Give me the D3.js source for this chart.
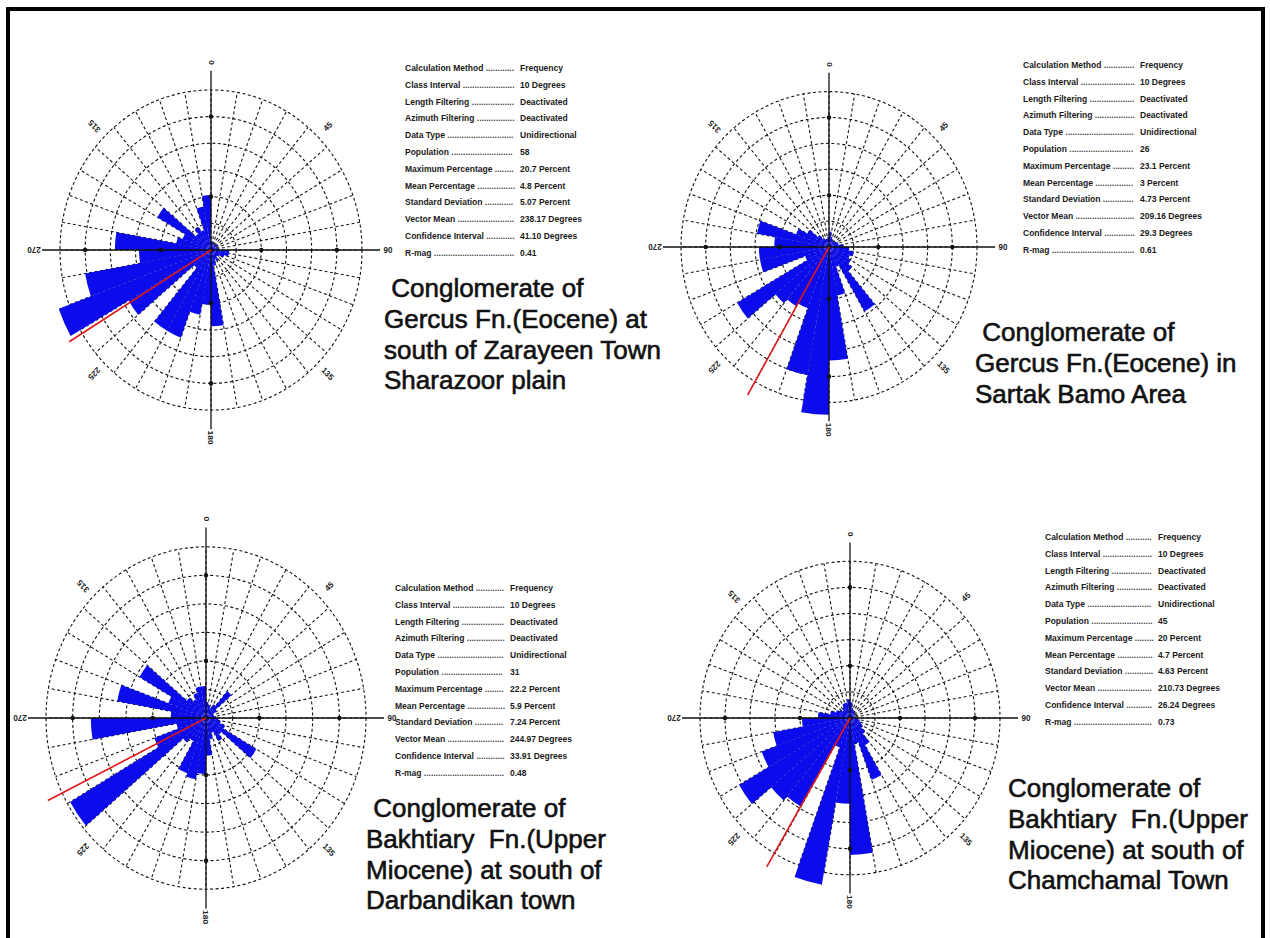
<!DOCTYPE html>
<html>
<head>
<meta charset="utf-8">
<script src="https://cdn.jsdelivr.net/npm/d3@7"></script>
<style>
  body { margin: 0; background: #fff; }
  svg { display: block; }
  text { white-space: pre; }
</style>
</head>
<body>
<div id="chart"></div>
<script>
// rose diagrams, 10 degree classes, values in percent

const binStarts = [0, 10, 20, 30, 40, 50, 60, 70, 80, 90, 100, 110, 120, 130, 140, 150, 160, 170,
  180, 190, 200, 210, 220, 230, 240, 250, 260, 270, 280, 290, 300, 310, 320, 330, 340, 350]

const roseZarayeen = [1.6, 1.6, 1.0, 1.2, 1.2, 1.6, 1.0, 1.2, 1.6, 3.6, 3.6, 2.8, 2.0, 1.6, 2.4, 2.0, 3.0, 14.3,
  10.3, 12.3, 17.5, 17.5, 4.4, 18.9, 32.2, 25.4, 14.3, 19.1, 7.0, 6.0, 12.3, 4.0, 5.0, 4.0, 8.3, 10.3]
const roseSartak = [3.0, 2.0, 1.6, 1.2, 1.6, 1.6, 2.0, 2.0, 3.0, 4.1, 5.1, 4.5, 5.1, 6.1, 14.4, 4.1, 9.5, 21.9,
  32.4, 25.1, 12.6, 13.2, 14.2, 21.5, 5.1, 14.2, 14.2, 11.1, 14.8, 7.1, 5.1, 3.0, 2.0, 1.6, 1.6, 2.0]
const roseDarbandikan = [2.8, 2.3, 1.9, 2.8, 6.2, 2.3, 1.5, 1.5, 1.9, 2.3, 2.8, 3.8, 10.9, 3.8, 4.7, 2.8, 3.8, 6.6,
  9.8, 10.9, 10.3, 4.7, 5.6, 29.4, 10.3, 5.6, 21.6, 6.6, 16.9, 7.5, 14.4, 4.7, 3.8, 4.7, 5.6, 5.6]
const roseChamchamal = [3.0, 2.0, 1.6, 1.6, 1.2, 1.2, 1.0, 1.0, 1.2, 1.6, 2.0, 2.4, 3.0, 4.0, 6.0, 12.6, 5.0, 26.2,
  16.4, 32.4, 6.0, 19.6, 20.6, 25.6, 18.8, 15.6, 9.6, 6.4, 4.0, 3.0, 2.4, 2.0, 2.4, 3.0, 3.0, 3.6]

const vectorMeans = [238.6, 210.0, 244.0, 210.3]
const ringValues = [5, 10, 15, 20, 25, 30]

const axisLabels = ['0', '45', '90', '135', '180', '225', '270', '315']
const axisAngles = [0, 45, 90, 135, 180, 225, 270, 315]

const statLabels = ['Calculation Method', 'Class Interval', 'Length Filtering', 'Azimuth Filtering',
  'Data Type', 'Population', 'Maximum Percentage', 'Mean Percentage', 'Standard Deviation',
  'Vector Mean', 'Confidence Interval', 'R-mag']
const statsZarayeen = ['Frequency', '10 Degrees', 'Deactivated', 'Deactivated', 'Unidirectional', '58',
  '20.7 Percent', '4.8 Percent', '5.07 Percent', '238.17 Degrees', '41.10 Degrees', '0.41']
const statsSartak = ['Frequency', '10 Degrees', 'Deactivated', 'Deactivated', 'Unidirectional', '26',
  '23.1 Percent', '3 Percent', '4.73 Percent', '209.16 Degrees', '29.3 Degrees', '0.61']
const statsDarbandikan = ['Frequency', '10 Degrees', 'Deactivated', 'Deactivated', 'Unidirectional', '31',
  '22.2 Percent', '5.9 Percent', '7.24 Percent', '244.97 Degrees', '33.91 Degrees', '0.48']
const statsChamchamal = ['Frequency', '10 Degrees', 'Deactivated', 'Deactivated', 'Unidirectional', '45',
  '20 Percent', '4.7 Percent', '4.63 Percent', '210.73 Degrees', '26.24 Degrees', '0.73']

const titles = [
  [' Conglomerate of', 'Gercus Fn.(Eocene) at', 'south of Zarayeen Town', 'Sharazoor plain'],
  [' Conglomerate of', 'Gercus Fn.(Eocene) in', 'Sartak Bamo Area'],
  [' Conglomerate of', 'Bakhtiary  Fn.(Upper', 'Miocene) at south of', 'Darbandikan town'],
  ['Conglomerate of', 'Bakhtiary  Fn.(Upper', 'Miocene) at south of', 'Chamchamal Town']
]

const width = 1270
const height = 938
const binWidth = 10

const svg = d3.select('#chart').append('svg')
  .attr('width', width).attr('height', height)

// frame (no bottom edge in the original)
svg.append('path')
  .attr('d', 'M8,' + height + 'V9H1263V' + height)
  .attr('fill', 'none')
  .attr('stroke', '#000')
  .attr('stroke-width', 4)

const panels = [
  { values: roseZarayeen, cx: 211, cy: 250, r: 151, sy: 1.06, tx: 384, ty: 297, sx: 405, svx: 520, st: 71, stats: statsZarayeen },
  { values: roseSartak, cx: 829, cy: 247, r: 148, sy: 1.05, tx: 975, ty: 341, sx: 1023, svx: 1140, st: 68, stats: statsSartak },
  { values: roseDarbandikan, cx: 206, cy: 718, r: 160, sy: 1.07, tx: 366, ty: 817, sx: 395, svx: 510, st: 591, stats: statsDarbandikan },
  { values: roseChamchamal, cx: 850, cy: 718, r: 150, sy: 1.045, tx: 1008, ty: 797, sx: 1045, svx: 1158, st: 540, stats: statsChamchamal }
]

const rad = d => d * Math.PI / 180

panels.forEach((p, k) => {
  const rScale = d3.scaleLinear().domain([0, 30]).range([0, p.r])
  const g = svg.append('g')
    .attr('transform', 'translate(' + p.cx + ',' + p.cy + ') scale(1,' + p.sy + ')')

  // dashed rings
  g.selectAll('circle.ring')
    .data(ringValues)
    .join('circle')
    .attr('class', 'ring')
    .attr('r', d => rScale(d))
    .attr('fill', 'none')
    .attr('stroke', '#111')
    .attr('stroke-width', 1.1)
    .attr('stroke-dasharray', '3,2.5')
    .attr('vector-effect', 'non-scaling-stroke')

  // dashed spokes every 10 degrees
  g.selectAll('line.spoke')
    .data(binStarts)
    .join('line')
    .attr('class', 'spoke')
    .attr('x1', 0).attr('y1', 0)
    .attr('x2', d => Math.sin(rad(d)) * rScale(30))
    .attr('y2', d => -Math.cos(rad(d)) * rScale(30))
    .attr('stroke', '#1a1a1a')
    .attr('stroke-width', 1.1)
    .attr('stroke-dasharray', '3,2.5')
    .attr('vector-effect', 'non-scaling-stroke')

  // petals
  const arc = d3.arc()
    .innerRadius(0)
    .outerRadius(d => rScale(d.v))
    .startAngle(d => rad(d.a))
    .endAngle(d => rad(d.a + binWidth))

  g.selectAll('path.petal')
    .data(binStarts.map((a, i) => ({ a: a, v: p.values[i] })))
    .join('path')
    .attr('class', 'petal')
    .attr('d', arc)
    .attr('fill', '#0b0bec')

  // main axes
  const ext = p.r + 18
  g.append('line').attr('x1', -ext).attr('x2', ext).attr('y1', 0).attr('y2', 0)
    .attr('stroke', '#111').attr('stroke-width', 1.3).attr('vector-effect', 'non-scaling-stroke')
  g.append('line').attr('y1', -ext).attr('y2', ext).attr('x1', 0).attr('x2', 0)
    .attr('stroke', '#111').attr('stroke-width', 1.3).attr('vector-effect', 'non-scaling-stroke')

  // dots on axes
  const dots = []
  ;[0, 90, 180, 270].forEach(a => [ringValues[1], ringValues[4]].forEach(v => dots.push({ a: a, v: v })))
  g.selectAll('circle.dot')
    .data(dots)
    .join('circle')
    .attr('class', 'dot')
    .attr('cx', d => Math.sin(rad(d.a)) * rScale(d.v))
    .attr('cy', d => -Math.cos(rad(d.a)) * rScale(d.v))
    .attr('r', 2.2)
    .attr('fill', '#111')

  // vector mean
  const m = vectorMeans[k]
  g.append('line')
    .attr('x1', 0).attr('y1', 0)
    .attr('x2', Math.sin(rad(m)) * p.r * 1.1)
    .attr('y2', -Math.cos(rad(m)) * p.r * 1.1)
    .attr('stroke', '#e01818')
    .attr('stroke-width', 1.6)
    .attr('vector-effect', 'non-scaling-stroke')

  // direction labels
  g.selectAll('text.dir')
    .data(axisAngles)
    .join('text')
    .attr('class', 'dir')
    .attr('transform', (d, i) => {
      const rr = d % 90 === 0 ? ext + 8 : p.r + 14
      return 'translate(' + Math.sin(rad(d)) * rr + ',' + (-Math.cos(rad(d)) * rr) + ') rotate(' + (d - 90) + ')'
    })
    .attr('text-anchor', 'middle')
    .attr('dy', '0.35em')
    .attr('font-family', 'Liberation Sans, Arial, sans-serif')
    .attr('font-size', 8)
    .attr('font-weight', 'bold')
    .attr('fill', '#222')
    .text((d, i) => axisLabels[i])

  // statistics block
  const sg = svg.append('g')
    .attr('font-family', 'Liberation Sans, Arial, sans-serif')
    .attr('font-size', 8.5)
    .attr('font-weight', 'bold')
    .attr('fill', '#1a1a1a')
  statLabels.forEach((lab, i) => {
    const y = p.st + i * 16.8
    const t = sg.append('text').attr('x', p.sx).attr('y', y).text(lab + ' ')
    const w = t.node().getComputedTextLength()
    const room = p.svx - 4 - (p.sx + w)
    const n = Math.max(0, Math.floor(room / 2.4))
    sg.append('text').attr('x', p.sx + w).attr('y', y).attr('fill', '#444').text('.'.repeat(n))
    sg.append('text').attr('x', p.svx).attr('y', y).text(p.stats[i])
  })

  // title
  svg.append('g')
    .selectAll('text')
    .data(titles[k])
    .join('text')
    .attr('x', p.tx)
    .attr('y', (d, i) => p.ty + i * 30.8)
    .attr('font-family', 'Liberation Sans, Arial, sans-serif')
    .attr('font-size', 26)
    .attr('fill', '#111')
    .attr('stroke', '#111')
    .attr('stroke-width', 0.6)
    .text(d => d)
})
</script>
</body>
</html>
